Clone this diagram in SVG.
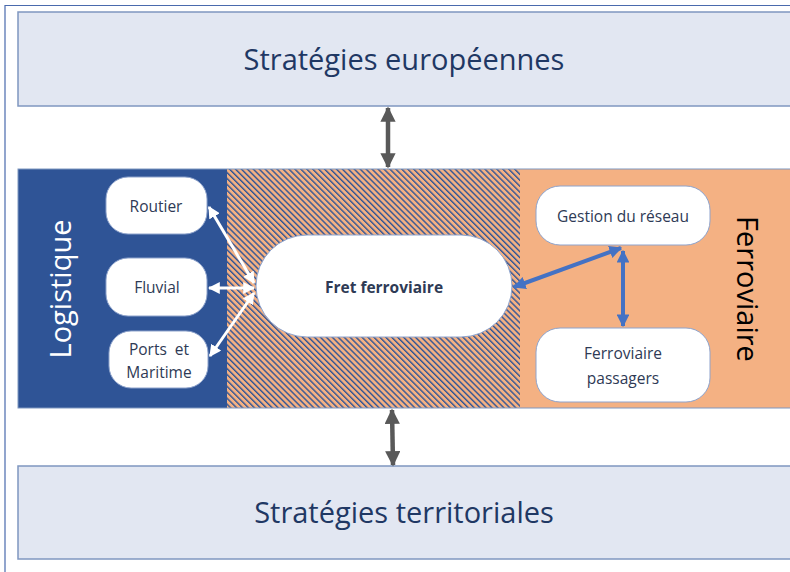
<svg xmlns="http://www.w3.org/2000/svg" width="790" height="572" viewBox="0 0 790 572">
  <style>
    .band-box { fill: #e2e7f2; stroke: #7f97c0; stroke-width: 1.5; }
    .title { font-family: "Open Sans", "Liberation Sans", sans-serif; font-size: 29px; fill: #1f3864; text-anchor: middle; }
    .node { fill: #ffffff; stroke: #8ea3cc; stroke-width: 1; }
    .label { font-family: "Open Sans", "Liberation Sans", sans-serif; font-size: 15.5px; fill: #2e3a55; text-anchor: middle; }
    .side { font-family: "Open Sans", "Liberation Sans", sans-serif; font-size: 29px; text-anchor: middle; }
    .gray { stroke: #595959; stroke-width: 4.5; fill: none; }
    .white { stroke: #ffffff; stroke-width: 3; fill: none; }
    .blue { stroke: #4472c4; stroke-width: 4; fill: none; }
  </style>
  <defs>
    <pattern id="hatch" width="4.2" height="4.2" patternUnits="userSpaceOnUse" patternTransform="rotate(-45)">
      <rect width="4.2" height="4.2" fill="#f4b183"/>
      <rect width="1.4" height="4.2" fill="#2f5496"/>
    </pattern>
    <marker id="ahGray" viewBox="0 0 10 10" refX="9" refY="5" markerWidth="3.4" markerHeight="3.4" orient="auto-start-reverse" markerUnits="strokeWidth">
      <path d="M0,0 L10,5 L0,10 Z" fill="#595959"/>
    </marker>
    <marker id="ahWhite" viewBox="0 0 10 10" refX="9" refY="5" markerWidth="4" markerHeight="4" orient="auto-start-reverse" markerUnits="strokeWidth">
      <path d="M0,0 L10,5 L0,10 Z" fill="#ffffff"/>
    </marker>
    <marker id="ahBlue" viewBox="0 0 10 10" refX="9" refY="5" markerWidth="3.2" markerHeight="3.2" orient="auto-start-reverse" markerUnits="strokeWidth">
      <path d="M0,0 L10,5 L0,10 Z" fill="#4472c4"/>
    </marker>
  </defs>

  <!-- outer frame -->
  <path d="M5,572 L5,5.5 L790,5.5" fill="none" stroke="#4a6aad" stroke-width="1.2"/>

  <!-- top strategy band -->
  <g id="strategies-europeennes">
    <rect class="band-box" x="18" y="12" width="780" height="94"/>
    <text class="title" x="404" y="70">Stratégies européennes</text>
  </g>

  <!-- central band: logistics / shared freight / rail -->
  <g id="bande-centrale">
    <rect x="18" y="169" width="209" height="239" fill="#2f5496"/>
    <rect x="227" y="169" width="293" height="239" fill="url(#hatch)"/>
    <rect x="520" y="169" width="275" height="239" fill="#f4b183"/>
    <rect x="18" y="169" width="780" height="239" fill="none" stroke="#7f97c0" stroke-width="1"/>
  </g>

  <g id="logistique">
    <text class="side" fill="#ffffff" transform="translate(71,289) rotate(-90)">Logistique</text>
  </g>
  <g id="ferroviaire">
    <text class="side" fill="#000000" transform="translate(737,289) rotate(90)">Ferroviaire</text>
  </g>

  <!-- bottom strategy band -->
  <g id="strategies-territoriales">
    <rect class="band-box" x="18" y="466" width="780" height="93"/>
    <text class="title" x="404" y="523">Stratégies territoriales</text>
  </g>

  <!-- connectors -->
  <g id="connecteurs">
    <line class="gray" x1="388" y1="108" x2="388" y2="167" marker-start="url(#ahGray)" marker-end="url(#ahGray)"/>
    <line class="gray" x1="392" y1="410" x2="393" y2="465" marker-start="url(#ahGray)" marker-end="url(#ahGray)"/>
    <line class="white" x1="254" y1="283" x2="209" y2="207" marker-start="url(#ahWhite)" marker-end="url(#ahWhite)"/>
    <line class="white" x1="254" y1="288" x2="209" y2="288" marker-start="url(#ahWhite)" marker-end="url(#ahWhite)"/>
    <line class="white" x1="254" y1="293" x2="210" y2="356" marker-start="url(#ahWhite)" marker-end="url(#ahWhite)"/>
    <line class="blue" x1="514" y1="287" x2="621" y2="248" marker-start="url(#ahBlue)" marker-end="url(#ahBlue)"/>
    <line class="blue" x1="623" y1="251" x2="623" y2="326" marker-start="url(#ahBlue)" marker-end="url(#ahBlue)"/>
  </g>

  <!-- nodes -->
  <g id="routier">
    <rect class="node" x="106" y="177" width="101" height="57" rx="22"/>
    <text class="label" x="156" y="212">Routier</text>
  </g>
  <g id="fluvial">
    <rect class="node" x="106" y="258" width="101" height="58" rx="22"/>
    <text class="label" x="157" y="293">Fluvial</text>
  </g>
  <g id="ports-maritime">
    <rect class="node" x="109" y="331" width="99" height="57" rx="22"/>
    <text class="label" x="159" y="355" xml:space="preserve">Ports  et</text>
    <text class="label" x="159" y="378">Maritime</text>
  </g>
  <g id="fret-ferroviaire">
    <rect class="node" x="256" y="235" width="256" height="102" rx="51"/>
    <text class="label" x="384" y="293" font-weight="bold" fill="#1f2d4f">Fret ferroviaire</text>
  </g>
  <g id="gestion-reseau">
    <rect class="node" x="536" y="186" width="174" height="59" rx="24"/>
    <text class="label" x="623" y="222">Gestion du réseau</text>
  </g>
  <g id="ferroviaire-passagers">
    <rect class="node" x="536" y="328" width="174" height="74" rx="24"/>
    <text class="label" x="623" y="359">Ferroviaire</text>
    <text class="label" x="623" y="384">passagers</text>
  </g>
</svg>
